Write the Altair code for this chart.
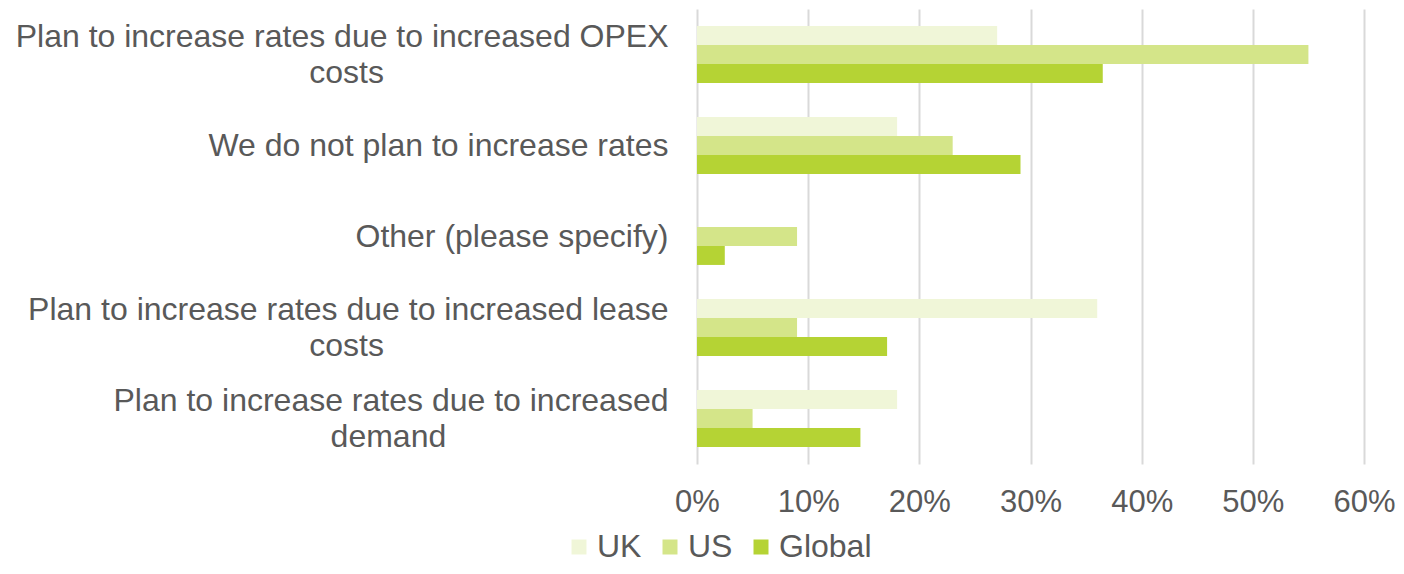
import altair as alt
import pandas as pd

# ---- data ----
category_lines = [
    ["Plan to increase rates due to increased OPEX", "costs"],
    ["We do not plan to increase rates"],
    ["Other (please specify)"],
    ["Plan to increase rates due to increased lease", "costs"],
    ["Plan to increase rates due to increased", "demand"],
]
series = ["UK", "US", "Global"]
uk_values = [0.27, 0.18, 0.0, 0.36, 0.18]
us_values = [0.55, 0.23, 0.09, 0.09, 0.05]
global_values = [0.365, 0.291, 0.025, 0.171, 0.147]
x_ticks = [0, 0.1, 0.2, 0.3, 0.4, 0.5, 0.6]
colors = ["#f0f6d8", "#d4e589", "#b5d334"]

FONT = "Liberation Sans"
TEXT = "#595959"

# Arial/Liberation Sans advance widths (1/1000 em), used to centre the
# second line of a wrapped label under the right-aligned first line.
W = {" ": 278, "a": 556, "b": 556, "c": 500, "d": 556, "e": 556, "f": 278,
     "g": 556, "h": 556, "i": 222, "j": 222, "k": 500, "l": 222, "m": 833,
     "n": 556, "o": 556, "p": 556, "q": 556, "r": 333, "s": 500, "t": 278,
     "u": 556, "v": 500, "w": 722, "x": 500, "y": 500, "z": 500, "P": 667,
     "O": 778, "E": 667, "X": 667, "W": 944, "(": 333, ")": 333}


def width(s):
    return sum(W.get(ch, 556) for ch in s)


def make_label(lines):
    if len(lines) == 1:
        return lines[0]
    first, second = lines
    pad = round(((width(first) - width(second)) / 2) / W[" "])
    # non-breaking spaces closed by a zero-width space so they are not trimmed
    return first + "\n" + second + "\u00a0" * pad + "\u200b"


labels = [make_label(l) for l in category_lines]

rows = []
for i, lab in enumerate(labels):
    for s, vals in zip(series, [uk_values, us_values, global_values]):
        rows.append({"category": lab, "series": s, "value": vals[i]})
df = pd.DataFrame(rows)

chart = (
    alt.Chart(df)
    .mark_bar()
    .encode(
        y=alt.Y(
            "category:N",
            sort=labels,
            scale=alt.Scale(paddingInner=0.375, paddingOuter=0.1875),
            axis=alt.Axis(
                title=None,
                domain=False,
                ticks=False,
                tickSize=0,
                labelExpr="split(datum.label, '\\n')",
                labelFont=FONT,
                labelFontSize=32,
                labelColor=TEXT,
                labelLimit=1000,
                labelPadding=29,
                labelLineHeight=36,
                labelAlign="right",
                labelOffset={
                    "condition": {"test": "indexof(datum.label, '\\n') >= 0", "value": -18},
                    "value": 0,
                },
            ),
        ),
        yOffset=alt.YOffset("series:N", sort=series, scale=alt.Scale(paddingInner=0, paddingOuter=0)),
        x=alt.X(
            "value:Q",
            scale=alt.Scale(domain=[0, 0.6], nice=False),
            axis=alt.Axis(
                title=None,
                values=x_ticks,
                format=".0%",
                domain=False,
                ticks=False,
                tickSize=0,
                grid=True,
                gridColor="#d9d9d9",
                gridWidth=2,
                labelFont=FONT,
                labelFontSize=31,
                labelColor=TEXT,
                labelPadding=23,
                labelFlush=False,
            ),
        ),
        color=alt.Color(
            "series:N",
            sort=series,
            scale=alt.Scale(domain=series, range=colors),
            legend=alt.Legend(
                title=None,
                orient="none",
                direction="horizontal",
                legendX=-134,
                legendY=522,
                symbolType="square",
                symbolSize=225,
                symbolStrokeWidth=0,
                labelFont=FONT,
                labelFontSize=32,
                labelColor=TEXT,
                labelOffset=2,
                columnPadding=12,
                padding=0,
            ),
        ),
    )
    .properties(
        width=667,
        height=455,
        autosize=alt.AutoSizeParams(type="none"),
        padding={"left": 689, "top": 1, "right": 32, "bottom": 102},
    )
    .configure(background="white")
    .configure_view(stroke=None)
)

chart.save("out.html", embed_options={"renderer": "svg", "actions": False})
